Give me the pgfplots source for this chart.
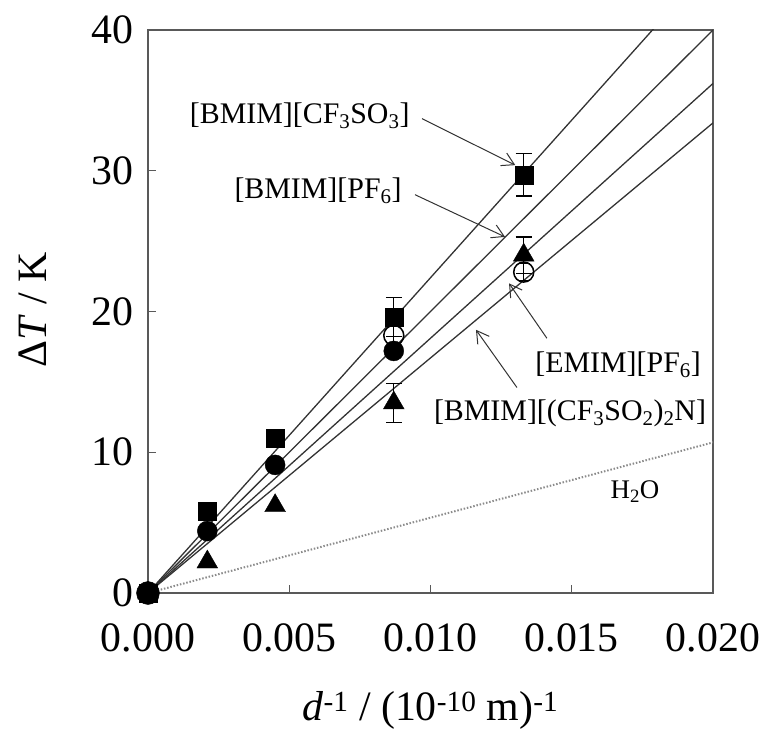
\documentclass[border=0pt]{standalone}
\usepackage{fontspec}
\setmainfont{Liberation Serif}
\usepackage{pgfplots}
\pgfplotsset{compat=1.18}
\usetikzlibrary{arrows.meta}
\begin{document}
\begin{tikzpicture}
\begin{axis}[at={(0,0)}, anchor=south west, scale only axis,
  width=565bp, height=563bp,
  xmin=0, xmax=0.02, ymin=0, ymax=40,
  xtick={0,0.005,0.01,0.015,0.02}, ytick={0,10,20,30,40},
  scaled x ticks=false,
  /pgf/number format/assume math mode=true,
  tick label style={font=\fontsize{42}{48}\selectfont},
  xticklabel style={yshift=-27bp, /pgf/number format/.cd, fixed, fixed zerofill, precision=3},
  yticklabel style={xshift=-11bp},
  label style={font=\fontsize{42}{48}\selectfont},
  tick align=inside, xtick pos=bottom, ytick pos=left, major tick length=8bp,
  axis line style={draw=black!65, line width=1.5bp},
  every tick/.style={black!65, line width=1.2bp},
  xlabel={\textit{d}\textsuperscript{-1} / (10\textsuperscript{-10} m)\textsuperscript{-1}},
  ylabel={Δ\textit{T} / K},
  xlabel style={at={(axis description cs:0.5,-0.208)}, anchor=center},
  ylabel style={at={(axis description cs:-0.2035,0.503)}, anchor=center},
]
% fitted lines
\addplot[no marks, line width=1.3bp, draw=black!80] coordinates {(0,0) (0.02,44.8)};
\addplot[no marks, line width=1.3bp, draw=black!80] coordinates {(0,0) (0.02,40.0)};
\addplot[no marks, line width=1.3bp, draw=black!80] coordinates {(0,0) (0.02,36.2)};
\addplot[no marks, line width=1.3bp, draw=black!80] coordinates {(0,0) (0.02,33.4)};
\addplot[no marks, line width=2bp, draw=black!45, dash pattern=on 1.5bp off 1.8bp] coordinates {(0,0) (0.02,10.7)};
% [BMIM][CF3SO3] squares
\addplot[only marks, mark=square*, mark size=9bp, black,
  error bars/.cd, y dir=both, y explicit,
  error bar style={line width=1.2bp},
  error mark options={rotate=90, mark size=8bp, line width=1.2bp}]
  coordinates {(0,0) (0.0021,5.8) (0.0045,11.0) (0.0087,19.6) +- (0,1.4) (0.0133,29.7) +- (0,1.5)};
% [BMIM][PF6] filled circles
\addplot[only marks, mark=*, mark size=10bp, black]
  coordinates {(0.0021,4.4) (0.0045,9.1) (0.0087,17.2)};
% [EMIM][PF6] open circles
\addplot[only marks, mark=o, mark size=10bp, black, line width=1.5bp, fill=white,
  error bars/.cd, y dir=both, y explicit,
  error bar style={line width=1.2bp},
  error mark options={rotate=90, mark size=6bp, line width=1.2bp}]
  coordinates {(0.0087,18.3) +- (0,0.7) (0.0133,22.8) +- (0,0.6)};
% [BMIM][(CF3SO2)2N] triangles
\addplot[only marks, mark=triangle*, mark size=12bp, black,
  error bars/.cd, y dir=both, y explicit,
  error bar style={line width=1.2bp},
  error mark options={rotate=90, mark size=8bp, line width=1.2bp}]
  coordinates {(0,0) (0.0021,2.2) (0.0045,6.2) (0.0087,13.5) +- (0,1.4) (0.0133,24.0) +- (0,1.3)};
\addplot[only marks, mark=*, mark size=11.5bp, black] coordinates {(0,0)};
% labels
\node[anchor=east, font=\fontsize{30}{34}\selectfont] at (axis cs:0.00938,33.9) {[BMIM][CF\textsubscript{3}SO\textsubscript{3}]};
\node[anchor=east, font=\fontsize{30}{34}\selectfont] at (axis cs:0.0091,28.6) {[BMIM][PF\textsubscript{6}]};
\node[anchor=west, font=\fontsize{30}{34}\selectfont] at (axis cs:0.01359,16.2) {[EMIM][PF\textsubscript{6}]};
\node[anchor=west, font=\fontsize{30}{34}\selectfont] at (axis cs:0.01000,12.8) {[BMIM][(CF\textsubscript{3}SO\textsubscript{2})\textsubscript{2}N]};
\node[font=\fontsize{27}{31}\selectfont] at (axis cs:0.01724,7.2) {H\textsubscript{2}O};
\draw[-{Straight Barb[length=12bp,width=14bp]}, line width=1bp, black!80] (axis cs:0.0097,33.7) -- (axis cs:0.0130,30.4);
\draw[-{Straight Barb[length=12bp,width=14bp]}, line width=1bp, black!80] (axis cs:0.00945,28.3) -- (axis cs:0.01264,25.3);
\draw[-{Straight Barb[length=12bp,width=14bp]}, line width=1bp, black!80] (axis cs:0.01412,18.1) -- (axis cs:0.01278,22.0);
\draw[-{Straight Barb[length=12bp,width=14bp]}, line width=1bp, black!80] (axis cs:0.01306,14.6) -- (axis cs:0.01161,18.7);
\end{axis}
\pgfresetboundingbox
\path (-148bp,-143bp) rectangle (620bp,593bp);
\end{tikzpicture}
\end{document}
